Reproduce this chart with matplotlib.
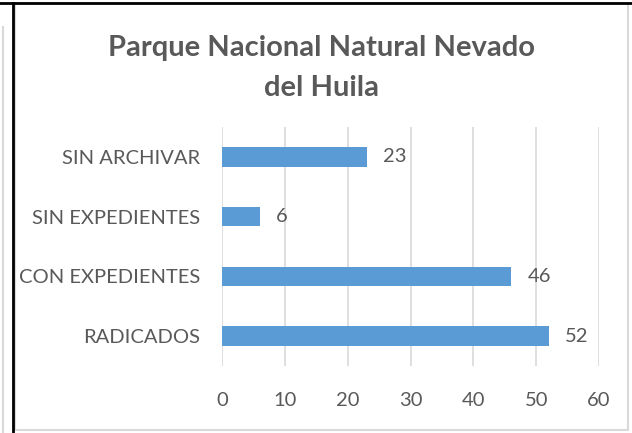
import matplotlib.pyplot as plt
from matplotlib.lines import Line2D
from matplotlib.patches import Rectangle

# Datos del gráfico
categorias = ['RADICADOS', 'CON EXPEDIENTES', 'SIN EXPEDIENTES', 'SIN ARCHIVAR']
valores = [52, 46, 6, 23]
ticks = [0, 10, 20, 30, 40, 50, 60]

gris = '#595959'
azul = '#5b9bd5'
plt.rcParams['font.family'] = ['Lato', 'DejaVu Sans']

W, H = 632, 433
fig = plt.figure(figsize=(W / 100, H / 100), dpi=100)

# Marco del gráfico y líneas del documento
fig.add_artist(Rectangle((15 / W, 3 / H), 613 / W, 427 / H, transform=fig.transFigure,
                         fill=False, edgecolor='#d9d9d9', linewidth=1.5))
fig.add_artist(Line2D([3 / W, 3 / W], [0, 1 - 27 / H], transform=fig.transFigure,
                      color='#d9d9d9', linewidth=1.5))
fig.add_artist(Line2D([0, 1], [1 - 2.5 / H, 1 - 2.5 / H], transform=fig.transFigure,
                      color='black', linewidth=2))
fig.add_artist(Line2D([12.5 / W, 12.5 / W], [0, 1 - 2.5 / H], transform=fig.transFigure,
                      color='black', linewidth=2))

ax = fig.add_axes([222 / W, 1 - 366 / H, (599 - 222) / W, (366 - 127) / H])
y = range(len(categorias))
ax.barh(y, valores, height=0.33, color=azul, zorder=3)
for yi, v in zip(y, valores):
    ax.text(v + 2.6, yi, str(v), va='center', ha='left', fontsize=14.5, color=gris)

ax.set_xlim(0, 60)
ax.set_ylim(-0.5, len(categorias) - 0.5)
ax.set_xticks(ticks)
ax.set_yticks(list(y))
ax.set_yticklabels(categorias)
ax.grid(axis='x', color='#d9d9d9', linewidth=1.2, zorder=0)
for s in ax.spines.values():
    s.set_visible(False)
ax.tick_params(axis='y', length=0, pad=16, labelsize=14.5, labelcolor=gris)
ax.tick_params(axis='x', length=0, pad=19, labelsize=14.5, labelcolor=gris)

fig.text(321 / W, 1 - 68 / H, 'Parque Nacional Natural Nevado\ndel Huila', ha='center',
         va='center', fontsize=21, fontweight='bold', color=gris, linespacing=1.65)

fig.savefig('out.png', dpi=100)
